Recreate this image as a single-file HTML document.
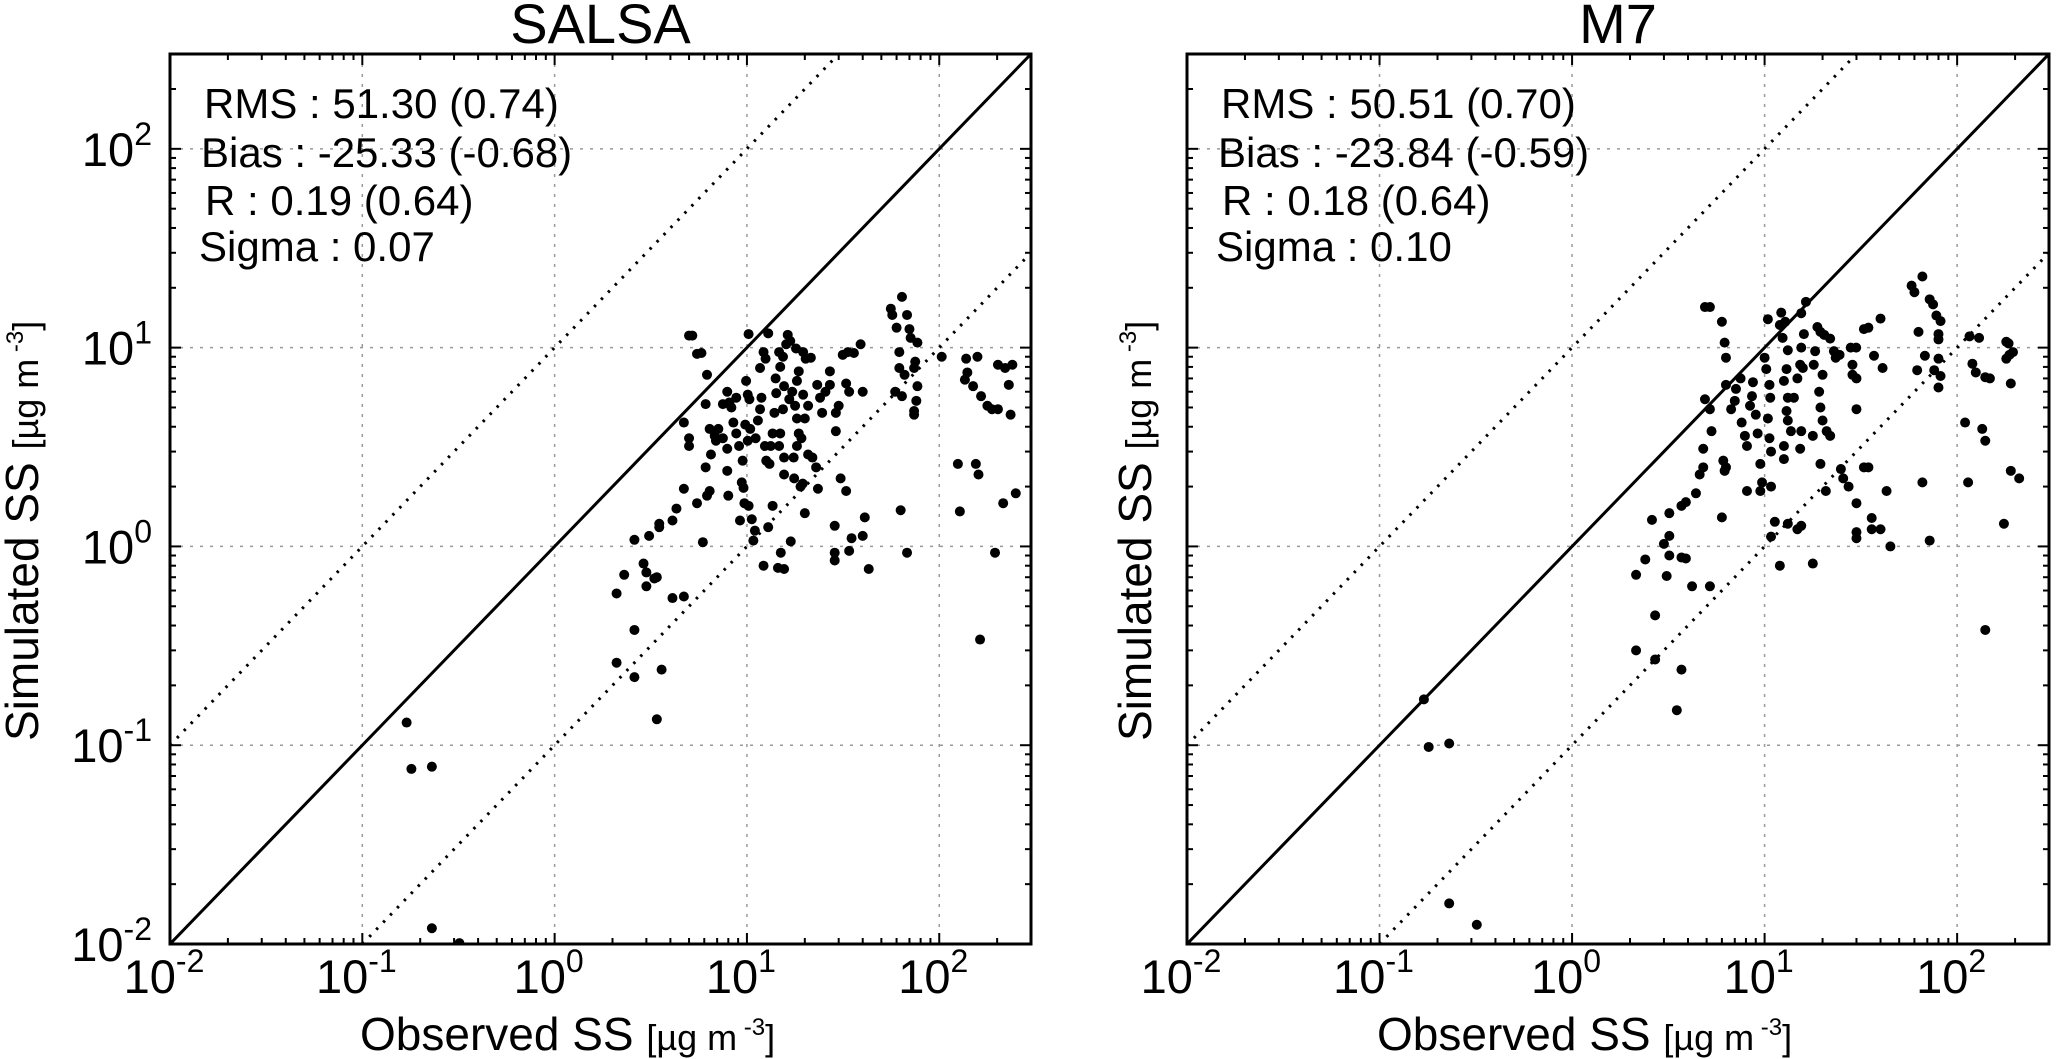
<!DOCTYPE html>
<html><head><meta charset="utf-8">
<style>
html,body{margin:0;padding:0;background:#fff;}
svg{display:block;font-family:"Liberation Sans","DejaVu Sans",sans-serif;}
</style></head>
<body>
<svg id="fig" width="2066" height="1059" viewBox="0 0 2066 1059" xmlns="http://www.w3.org/2000/svg">
<rect width="2066" height="1059" fill="#fff"/>
</svg>
<script>
const panelTitles = ["SALSA", "M7"];
const statsSALSA = ["RMS : 51.30 (0.74)", "Bias : -25.33 (-0.68)", "R : 0.19 (0.64)", "Sigma : 0.07"];
const statsM7 = ["RMS : 50.51 (0.70)", "Bias : -23.84 (-0.59)", "R : 0.18 (0.64)", "Sigma : 0.10"];
const tickExps = [-2, -1, 0, 1, 2];
const axisMin = 0.01;
const axisMax = 300;

const salsaObs = [0.17,0.18,0.23,0.23,0.32,2.1,2.6,2.6,3.6,3.4,2.1,2.3,2.6,3.1,2.9,3.0,3.0,3.3,3.4,4.1,4.7,3.5,3.5,4.1,4.3,4.7,5.9,5.5,4.7,5.0,5.0,5.0,5.2,5.5,5.8,6.2,6.1,6.4,6.5,6.1,6.2,6.4,6.9,6.8,7.1,7.5,7.9,8.1,7.5,7.9,7.9,8.0,8.3,8.5,8.8,9.1,8.8,9.5,9.4,9.6,9.7,9.2,10.2,10.6,11,10.8,10.2,9.9,10.1,10.3,9.8,10.4,11.1,10.1,11.4,11.7,11.9,11.7,12.2,12.5,12.9,12.4,12.6,12.2,13.1,13.3,13.6,13.9,14.2,14.1,14.9,15.4,14.7,16,16.3,16.8,15.6,16.6,15.4,14.9,14.7,15.6,15.6,13.6,12.9,14.5,15.6,15,16.9,17.6,19,17.5,18.2,18.6,18.2,17.8,17.2,18.2,18.6,18,19.6,20.2,21.5,19.6,20.8,20,19.2,20.8,21.9,22.9,20,19.5,23.4,23.2,24,24.6,25.6,27,27,29,30,29,28.6,30.7,32.8,28.6,28.6,34,35,32.8,34,31.5,33.5,36,39,40,40,41,43,56,57,64,68,60,70,71,77,62,75,74,62,66,59,64,77,76,74,74,63,68,103,138,158,140,136,150,165,178,188,202,202,220,230,235,240,125,155,160,215,250,128,195,163];
const salsaSim = [0.13,0.076,0.078,0.012,0.0101,0.26,0.22,0.38,0.24,0.135,0.58,0.72,1.08,1.13,0.82,0.63,0.74,0.69,0.70,0.55,0.56,1.25,1.3,1.35,1.55,1.95,1.05,1.65,4.2,3.5,3.2,11.5,11.5,9.3,9.4,7.3,5.2,3.9,2.9,2.5,1.8,1.9,3.4,3.6,3.9,5.2,6.0,5.3,3.5,3.1,2.4,1.8,5.0,4.2,3.7,3.2,5.6,2.7,2.1,1.97,1.65,1.35,1.6,1.37,1.2,1.07,11.7,6.8,5.8,5.5,4.1,3.9,3.5,3.4,4.3,4.9,5.6,7.9,9.5,8.8,11.8,3.2,2.7,0.8,2.6,3.2,3.7,4.7,5.9,7.0,8.0,9.0,9.5,10.4,11.6,10.8,6.4,5.5,4.9,3.7,3.2,2.8,2.3,1.6,1.25,0.78,0.77,0.93,1.06,2.2,2.0,2.8,3.2,3.7,4.4,5.1,6.0,6.8,7.6,9.9,9.5,8.8,8.9,5.8,5.1,4.4,3.5,2.9,2.8,2.5,1.47,2.07,1.95,6.5,5.6,4.7,6.0,6.5,7.6,4.7,5.1,3.8,1.27,2.2,1.9,0.93,0.85,0.95,1.1,6.6,6.0,9.2,9.5,9.4,10.4,6.0,1.13,1.4,0.77,15.7,14.6,18,14.6,12.6,12.4,11.2,10.6,9.5,8.5,7.9,7.9,7.3,6.0,5.7,6.4,5.4,4.8,4.6,1.52,0.93,9.0,8.8,9.0,7.5,6.9,6.4,5.7,5.1,4.9,4.9,8.2,7.9,6.5,4.6,8.2,2.6,2.6,2.3,1.65,1.85,1.5,0.93,0.34];

const m7Obs = [0.17,0.18,0.23,0.23,0.32,2.15,2.7,2.7,2.15,2.4,2.6,3.0,3.2,3.2,3.2,3.1,3.7,3.9,4.2,5.2,3.7,3.5,3.7,3.9,4.4,4.6,4.8,4.8,4.9,5.2,5.3,4.9,5.2,6,6.2,6.3,6.3,6.0,6.1,6.3,6.2,6.7,7.0,7.1,7.5,7.6,7.9,8.1,8.1,8.4,8.6,8.7,9.0,9.2,9.5,9.7,9.5,10,10.4,10.2,10.6,10.7,10.4,10.6,10.8,10.8,11.3,10.8,12,12,12.2,12.8,12.4,13.2,13,12.6,13.2,13,13.2,13.7,12.6,12.6,13.2,14.2,14.8,15.3,15.5,16.4,16,15.5,15.8,15.5,15.3,14.8,15.5,17.8,17.8,18,18.3,18.8,19.5,20,19.2,19.5,20,21,21.9,19.5,20.8,20.4,21.9,22.9,23.4,24.5,24.9,25.6,27.3,28,29.9,28.6,28.6,30,30,32.8,34.6,32.8,34.6,30,36,30,30,36,40,45,43,37,41,40,58,60,66,72,75,78,82,63,80,80,68,80,76,62,82,80,66,72,116,130,120,125,140,148,180,185,180,187,195,190,110,135,140,114,190,210,175,140];
const m7Sim = [0.17,0.098,0.102,0.016,0.0125,0.30,0.27,0.45,0.72,0.86,1.36,1.03,1.13,1.47,0.9,0.71,0.88,0.87,0.63,0.63,0.24,0.15,1.6,1.67,1.85,2.3,2.5,3.1,5.5,4.9,3.8,16,16,13.5,10.6,8.9,6.5,1.4,2.7,2.5,2.4,4.9,5.4,6.2,7.0,4.2,3.6,3.2,1.9,5.1,5.7,6.7,4.6,3.7,2.6,2.1,1.9,8.9,13.9,7.8,6.5,5.6,4.4,3.5,3.0,2.0,1.33,1.12,0.8,13,15,13.5,11.2,9.7,7.8,6.8,5.6,4.8,4.3,3.8,3.2,2.75,1.3,5.6,7.0,8.2,14.9,17,11.7,10,7.9,3.8,3.1,1.22,1.27,0.82,3.6,8.2,9.6,12.7,12,7.3,6.0,5.0,4.3,3.8,3.6,2.6,1.9,11.6,11.1,9.6,8.9,9.2,2.45,2.2,2.0,10,10,8.2,7.3,7.0,4.9,12.4,12.6,2.5,2.5,1.65,1.39,1.18,1.1,1.22,1.22,1.0,1.9,9.1,7.9,14,20.5,19,22.8,17.5,16.5,14.5,13.6,12,11.7,11.0,9.1,8.8,7.7,7.7,7.2,6.3,2.1,1.07,11.4,11.2,8.3,7.5,7.1,7.0,10.7,10.5,8.8,9.2,9.5,6.6,4.2,3.9,3.4,2.1,2.4,2.2,1.3,0.38];

const NS = "http://www.w3.org/2000/svg";
const svg = document.getElementById("fig");
function mk(tag, attrs, parent){
  const e = document.createElementNS(NS, tag);
  for (const k in attrs) e.setAttribute(k, attrs[k]);
  (parent||svg).appendChild(e);
  return e;
}
const Y0 = 54, Y1 = 944;
const lmin = Math.log10(axisMin), lmax = Math.log10(axisMax);

function drawPanel(idx, x0, x1, title, stats, obs, sim, showYLabels){
  const g = mk("g", {});
  
  
  const sx = v => x0 + (Math.log10(v) - lmin) / (lmax - lmin) * (x1 - x0);
  const sy = v => Y1 - (Math.log10(v) - lmin) / (lmax - lmin) * (Y1 - Y0);
  const cid = "clip" + idx;
  const cp = mk("clipPath", {id: cid}, g);
  mk("rect", {x: x0, y: Y0, width: x1 - x0, height: Y1 - Y0}, cp);

  const grid = mk("g", {"clip-path": "url(#" + cid + ")"}, g);
  
  
  tickExps.forEach(e => {
    const v = Math.pow(10, e);
    mk("line", {x1: sx(v), x2: sx(v), y1: Y0, y2: Y1, stroke: "#999", "stroke-width": 1.5, "stroke-dasharray": "3 7"}, grid);
    mk("line", {x1: x0, x2: x1, y1: sy(v), y2: sy(v), stroke: "#999", "stroke-width": 1.5, "stroke-dasharray": "3 7"}, grid);
  });

  const lines = mk("g", {"clip-path": "url(#" + cid + ")"}, g);
  const oneToOne = mk("line", {x1: sx(axisMin), y1: sy(axisMin), x2: sx(axisMax), y2: sy(axisMax), stroke: "#000", "stroke-width": 3}, lines);
  
  
  const upper = mk("line", {x1: sx(axisMin), y1: sy(axisMin * 10), x2: sx(axisMax / 10), y2: sy(axisMax), stroke: "#000", "stroke-width": 3, "stroke-dasharray": "2.5 7.5"}, lines);
  
  
  const lower = mk("line", {x1: sx(axisMin * 10), y1: sy(axisMin), x2: sx(axisMax), y2: sy(axisMax / 10), stroke: "#000", "stroke-width": 3, "stroke-dasharray": "2.5 7.5"}, lines);
  
  

  const pts = mk("g", {"clip-path": "url(#" + cid + ")"}, g);
  
  
  for (let i = 0; i < obs.length; i++){
    const c = mk("circle", {cx: sx(obs[i]), cy: sy(sim[i]), r: 5, fill: "#000"}, pts);
    
    
  }

  const ticks = mk("g", {stroke: "#000", "stroke-width": 2}, g);
  
  
  for (let e = -2; e <= 2; e++){
    for (let m = 1; m <= 9; m++){
      const v = m * Math.pow(10, e);
      if (v > axisMax) continue;
      const L = m === 1 ? 11 : 6;
      const X = sx(v), Yv = sy(v);
      mk("line", {x1: X, x2: X, y1: Y1, y2: Y1 - L}, ticks);
      mk("line", {x1: X, x2: X, y1: Y0, y2: Y0 + L}, ticks);
      mk("line", {x1: x0, x2: x0 + L, y1: Yv, y2: Yv}, ticks);
      mk("line", {x1: x1, x2: x1 - L, y1: Yv, y2: Yv}, ticks);
    }
  }
  const frame = mk("rect", {x: x0, y: Y0, width: x1 - x0, height: Y1 - Y0, fill: "none", stroke: "#000", "stroke-width": 3}, g);
  
  

  tickExps.forEach(e => {
    const v = Math.pow(10, e);
    const t = mk("text", {x: sx(v) - 6, y: 993, "font-size": 47, "text-anchor": "middle"}, g);
    
    
    t.appendChild(document.createTextNode("10"));
    const s = mk("tspan", {"font-size": 32, dy: -21}, t);
    s.textContent = String(e);
    if (showYLabels){
      const ty = mk("text", {x: x0 - 18, y: sy(v) + 17, "font-size": 47, "text-anchor": "end"}, g);
      
      
      ty.appendChild(document.createTextNode("10"));
      const s2 = mk("tspan", {"font-size": 32, dy: -21}, ty);
      s2.textContent = String(e);
    }
  });

  const tt = mk("text", {x: (x0 + x1) / 2, y: 43, "font-size": 56, "text-anchor": "middle"}, g);
  
  
  tt.textContent = title;

  const bases = [118, 167, 215, 261];
  const offs = [34, 31, 35, 29];
  stats.forEach((s, i) => {
    const st = mk("text", {x: x0 + offs[i], y: bases[i], "font-size": 42}, g);
    
    
    st.textContent = s;
  });

  const xt = mk("text", {x: x0 + 190, y: 1050, "font-size": 46}, g);
  
  
  xt.appendChild(document.createTextNode("Observed SS "));
  const xu = mk("tspan", {"font-size": 36}, xt);
  xu.textContent = "[µg m";
  const xs = mk("tspan", {"font-size": 24, dy: -15}, xt);
  xs.textContent = " -3";
  const xe = mk("tspan", {"font-size": 36, dy: 15}, xt);
  xe.textContent = "]";

  const yx = showYLabels ? 38 : x0 - 36;
  const yt = mk("text", {x: 0, y: 0, "font-size": 46, transform: "translate(" + yx + ",741) rotate(-90)"}, g);
  
  
  yt.appendChild(document.createTextNode("Simulated SS "));
  const yu = mk("tspan", {"font-size": 36}, yt);
  yu.textContent = "[µg m";
  const ys = mk("tspan", {"font-size": 24, dy: -15}, yt);
  ys.textContent = " -3";
  const ye = mk("tspan", {"font-size": 36, dy: 15}, yt);
  ye.textContent = "]";
}

drawPanel(0, 170, 1031, panelTitles[0], statsSALSA, salsaObs, salsaSim, true);
drawPanel(1, 1187, 2049, panelTitles[1], statsM7, m7Obs, m7Sim, false);
</script>
</body></html>
